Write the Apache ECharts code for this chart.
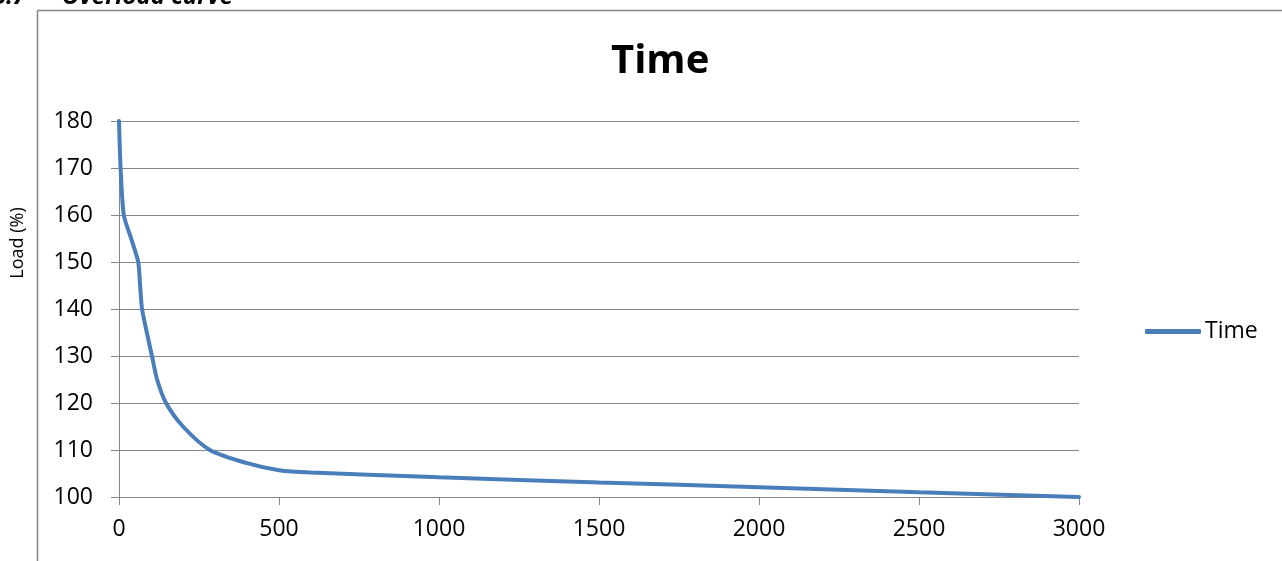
<!DOCTYPE html>
<html>
<head>
<meta charset="utf-8">
<script src="https://cdn.jsdelivr.net/npm/echarts@6/dist/echarts.min.js"></script>
<style>
html,body{margin:0;padding:0;background:#fff;}
#c{width:1282px;height:561px;}
</style>
</head>
<body>
<div id="c"></div>
<script>
// Data
var seriesName = 'Time';
var times = [0, 5, 15, 38, 60, 66, 72, 87, 103, 119, 147, 200, 284, 400, 500, 600, 1000, 1500, 2000, 2500, 3000];
var loads = [180, 170, 160, 155, 150, 145, 140, 135, 130, 125, 120, 115, 110, 107.2, 105.7, 105.2, 104.2, 103.1, 102.1, 101, 100];
var xTicks = [0, 500, 1000, 1500, 2000, 2500, 3000];
var yTicks = [100, 110, 120, 130, 140, 150, 160, 170, 180];
var titleText = 'Time';
var yAxisName = 'Load (%)';
var headingNumber = '3.7';
var headingText = 'Overload curve';

var data = times.map(function (t, i) { return [t, loads[i]]; });
var chart = echarts.init(document.getElementById('c'));
var font = '"Open Sans", "Liberation Sans", sans-serif';
var gray = '#868686';
chart.setOption({
  backgroundColor: '#fff',
  animation: false,
  title: {
    text: titleText,
    left: 606, top: 37,
    textStyle: { fontFamily: font, fontWeight: 'bold', fontSize: 40, color: '#000' }
  },
  legend: {
    data: [seriesName],
    left: 1140, top: 315,
    itemWidth: 56, itemHeight: 5, itemGap: 4,
    icon: 'roundRect',
    textStyle: { fontFamily: font, fontSize: 23, color: '#000', padding: [0, 0, 0, -1] }
  },
  grid: { left: 119, right: 203, top: 121, bottom: 64, containLabel: false },
  xAxis: {
    type: 'value', min: xTicks[0], max: xTicks[xTicks.length - 1], interval: 500,
    axisLine: { show: true, lineStyle: { color: gray, width: 1 } },
    axisTick: { show: true, length: 8, lineStyle: { color: gray } },
    splitLine: { show: false },
    axisLabel: { fontFamily: font, fontSize: 23, color: '#000', margin: 21,
      formatter: function (v) { return String(v); } }
  },
  yAxis: {
    type: 'value', min: yTicks[0], max: yTicks[yTicks.length - 1], interval: 10,
    axisLine: { show: true, lineStyle: { color: gray, width: 1 } },
    axisTick: { show: true, length: 8, lineStyle: { color: gray } },
    splitLine: { show: true, lineStyle: { color: gray, width: 1 } },
    axisLabel: { fontFamily: font, fontSize: 23, color: '#000', margin: 26,
      formatter: function (v) { return String(v); } }
  },
  series: [{
    name: seriesName, type: 'line', data: data,
    smooth: 0.25,
    showSymbol: false, symbol: 'none',
    lineStyle: { color: '#4a7ebb', width: 4, cap: 'round' },
    itemStyle: { color: '#4a7ebb' }
  }],
  graphic: [
    { type: 'line', shape: { x1: 37.5, y1: 10.5, x2: 1290, y2: 10.5 }, style: { stroke: gray, lineWidth: 1.5 } },
    { type: 'line', shape: { x1: 37.5, y1: 10.5, x2: 37.5, y2: 570 }, style: { stroke: gray, lineWidth: 1.5 } },
    { type: 'text', x: 26, y: -15,
      style: { text: headingNumber, fontFamily: font, fontSize: 24, fontStyle: 'italic', fontWeight: 'bold', fill: '#000', align: 'right' } },
    { type: 'text', x: 62, y: -15,
      style: { text: headingText, fontFamily: font, fontSize: 24, fontStyle: 'italic', fontWeight: 'bold', fill: '#000' } },
    { type: 'text', x: 18, y: 243, rotation: Math.PI / 2,
      style: { text: yAxisName, fontFamily: font, fontSize: 18, fill: '#000', align: 'center', verticalAlign: 'middle' } }
  ]
});
</script>
</body>
</html>
